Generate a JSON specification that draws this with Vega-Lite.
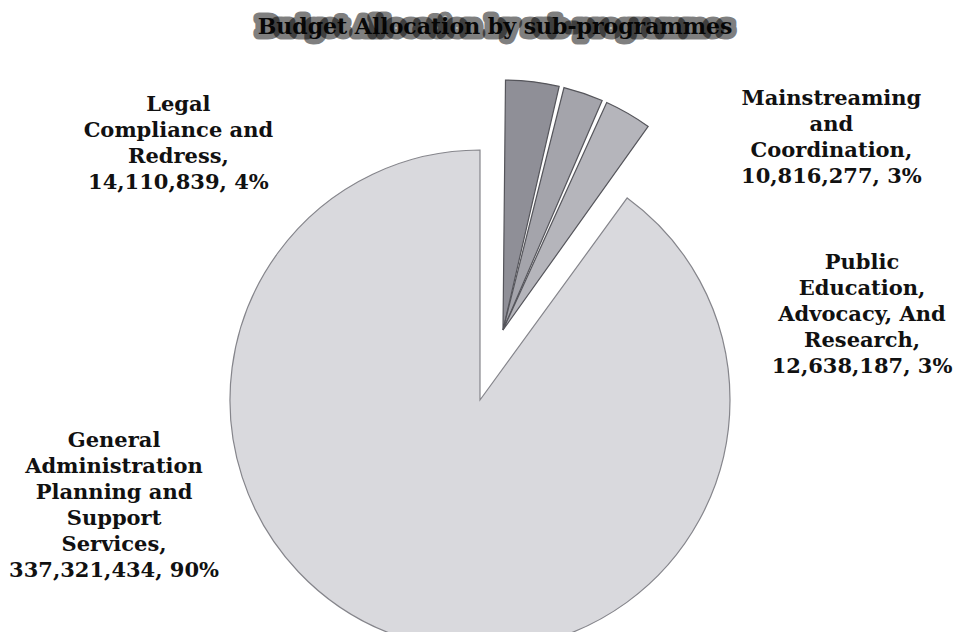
{
  "$schema": "https://vega.github.io/schema/vega-lite/v6.json",
  "width": 956,
  "height": 582,
  "autosize": {"type": "none"},
  "padding": {"top": 50, "left": 0, "right": 0, "bottom": 0},
  "background": "white",
  "title": {
    "text": "Budget Allocation by sub-programmes",
    "font": "DejaVu Serif",
    "fontSize": 22,
    "fontWeight": "bold",
    "color": "#111111",
    "anchor": "middle",
    "dx": 17,
    "offset": 11
  },
  "config": {
    "view": {"stroke": null},
    "style": {
      "group-title": {"stroke": "#000000", "strokeOpacity": 0.5, "strokeWidth": 11, "strokeJoin": "round"}
    }
  },
  "data": {
    "values": [
      {"name": "Legal Compliance and Redress", "label": "Legal\nCompliance and\nRedress", "value": 14110839},
      {"name": "Mainstreaming and Coordination", "label": "Mainstreaming\nand\nCoordination", "value": 10816277},
      {"name": "Public Education, Advocacy, And Research", "label": "Public\nEducation,\nAdvocacy, And\nResearch", "value": 12638187},
      {"name": "General Administration Planning and Support Services", "label": "General\nAdministration\nPlanning and\nSupport\nServices", "value": 337321434}
    ]
  },
  "transform": [
    {"joinaggregate": [{"op": "sum", "field": "value", "as": "total"}]},
    {"stack": "value", "groupby": [], "offset": "normalize", "as": ["v0", "v1"]},
    {"calculate": "(datum.v0 + datum.v1) / 2", "as": "mid"},
    {"calculate": "datum.label + ',\\n' + format(datum.value, ',') + ', ' + format(datum.value / datum.total, '.0%')", "as": "txt"}
  ],
  "layer": [
    {
      "transform": [{"filter": "datum.name == 'General Administration Planning and Support Services'"}],
      "mark": {"type": "arc", "outerRadius": 250, "xOffset": 2, "yOffset": 59, "stroke": "#85858b", "strokeWidth": 1.2},
      "encoding": {
        "theta": {"field": "v0", "type": "quantitative", "scale": {"domain": [0, 1]}},
        "theta2": {"field": "v1"},
        "color": {
          "field": "name", "type": "nominal", "legend": null,
          "scale": {
            "domain": ["Legal Compliance and Redress", "Mainstreaming and Coordination", "Public Education, Advocacy, And Research", "General Administration Planning and Support Services"],
            "range": ["#8f8f97", "#a4a4ab", "#b5b5bb", "#d9d9dd"]
          }
        }
      }
    },
    {
      "transform": [{"filter": "datum.name != 'General Administration Planning and Support Services'"}],
      "mark": {"type": "arc", "outerRadius": 250, "padAngle": 0.02, "xOffset": 25, "yOffset": -11, "stroke": "#55555b", "strokeWidth": 1.2},
      "encoding": {
        "theta": {"field": "v0", "type": "quantitative", "scale": {"domain": [0, 1]}},
        "theta2": {"field": "v1"},
        "color": {"field": "name", "type": "nominal", "legend": null}
      }
    },
    {
      "transform": [{"filter": "datum.name == 'Legal Compliance and Redress'"}],
      "mark": {"type": "text", "font": "DejaVu Serif", "fontSize": 21, "fontWeight": "bold", "lineBreak": "\n", "lineHeight": 26, "align": "center", "baseline": "middle", "color": "#111111", "dx": -335, "dy": 62},
      "encoding": {
        "theta": {"field": "mid", "type": "quantitative", "stack": null, "scale": {"domain": [0, 1]}},
        "radius": {"value": 300},
        "text": {"field": "txt"}
      }
    },
    {
      "transform": [{"filter": "datum.name == 'Mainstreaming and Coordination'"}],
      "mark": {"type": "text", "font": "DejaVu Serif", "fontSize": 21, "fontWeight": "bold", "lineBreak": "\n", "lineHeight": 26, "align": "center", "baseline": "middle", "color": "#111111", "dx": 257, "dy": 42},
      "encoding": {
        "theta": {"field": "mid", "type": "quantitative", "stack": null, "scale": {"domain": [0, 1]}},
        "radius": {"value": 300},
        "text": {"field": "txt"}
      }
    },
    {
      "transform": [{"filter": "datum.name == 'Public Education, Advocacy, And Research'"}],
      "mark": {"type": "text", "font": "DejaVu Serif", "fontSize": 21, "fontWeight": "bold", "lineBreak": "\n", "lineHeight": 26, "align": "center", "baseline": "middle", "color": "#111111", "dx": 219, "dy": 208},
      "encoding": {
        "theta": {"field": "mid", "type": "quantitative", "stack": null, "scale": {"domain": [0, 1]}},
        "radius": {"value": 330},
        "text": {"field": "txt"}
      }
    },
    {
      "transform": [{"filter": "datum.name == 'General Administration Planning and Support Services'"}],
      "mark": {"type": "text", "font": "DejaVu Serif", "fontSize": 21, "fontWeight": "bold", "lineBreak": "\n", "lineHeight": 26, "align": "center", "baseline": "middle", "color": "#111111", "dx": -302, "dy": -90},
      "encoding": {
        "theta": {"field": "mid", "type": "quantitative", "stack": null, "scale": {"domain": [0, 1]}},
        "radius": {"value": 200},
        "text": {"field": "txt"}
      }
    }
  ]
}
